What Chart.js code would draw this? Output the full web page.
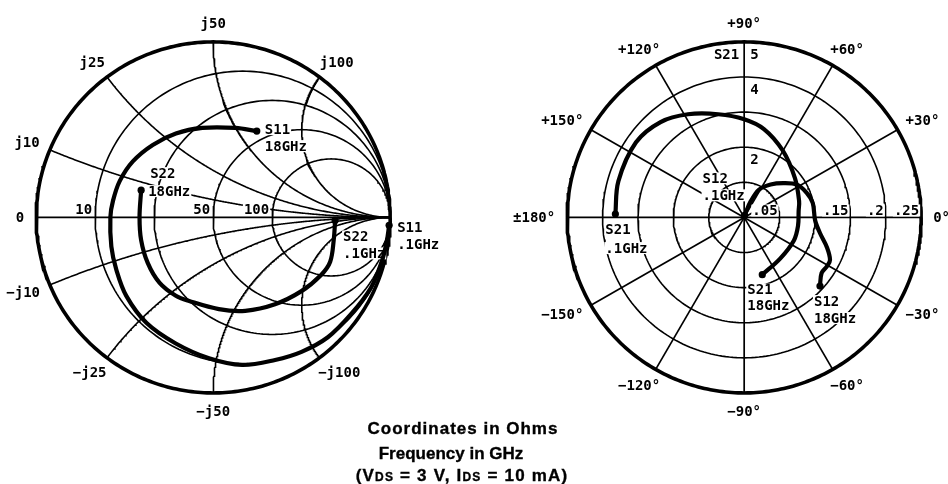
<!DOCTYPE html>
<html><head><meta charset="utf-8">
<script src="https://cdn.jsdelivr.net/npm/chart.js@4.4.1/dist/chart.umd.min.js"></script>
<style>
html,body{margin:0;padding:0;background:#fff;}
#wrap{position:relative;width:948px;height:484px;overflow:hidden;background:#fff;}
#c{position:absolute;left:0;top:0;}
.cap{position:absolute;width:400px;text-align:center;font-family:"Liberation Sans",Arial,sans-serif;font-weight:bold;font-size:17px;line-height:20px;color:#000;white-space:nowrap;-webkit-text-stroke:0.35px #000;}
.sub{font-size:12px;}
</style></head>
<body>
<div id="wrap">
<canvas id="c" width="948" height="484"></canvas>
<div class="cap" style="left:263px;top:419px;letter-spacing:1px;">Coordinates in Ohms</div>
<div class="cap" style="left:251px;top:444px;">Frequency in GHz</div>
<div class="cap" style="left:262px;top:466px;letter-spacing:1.2px;">(V<span class="sub">DS</span> = 3 V, I<span class="sub">DS</span> = 10 mA)</div>
</div>
<script>
// ---------------- DATA ----------------
const Z0 = 50;                                  // reference impedance (ohms)
const resistanceCircles = [10, 25, 50, 100];    // constant-resistance circles (ohms)
const reactanceArcs = [10, 25, 50, 100];        // constant-reactance arcs (+/- j ohms)
const resistanceTickLabels = [10, 50, 100];     // labelled resistance circles

// Smith chart, reflection coefficients (.1 GHz -> 18 GHz)
const s11Mag = [0.995, 0.99, 0.985, 0.977, 0.954, 0.941, 0.914, 0.884, 0.856, 0.803, 0.749, 0.71, 0.664, 0.623, 0.599, 0.581, 0.574, 0.5675, 0.555, 0.536, 0.5225, 0.5135, 0.525, 0.55];
const s11Ang = [-2.6, -8, -14.6, -24.3, -35.3, -46.5, -56.9, -66.7, -79, -91.7, -106.4, -122, -137.7, -151.5, -163.9, 179.8, 170.4, 158.6, 144.9, 129.6, 113.8, 96.9, 76.2, 63.4];
const s22Mag = [0.689, 0.693, 0.7075, 0.6925, 0.652, 0.6054, 0.5621, 0.5237, 0.4953, 0.4939, 0.48, 0.4517, 0.4272, 0.4162, 0.4358];
const s22Ang = [-1.4, -10.7, -20.9, -28.1, -40.1, -54.8, -71.2, -86.5, -105.9, -115.3, -129.3, -145, -162.4, 179.8, 159.1];

// Polar chart (.1 GHz -> 18 GHz)
const s21Full = 5;       // S21 magnitude at outer ring
const s12Full = 0.25;    // S12 magnitude at outer ring
const s21Ticks = [1, 2, 3, 4, 5];
const s21TickLabels = ['', '2', '', '4', '5'];
const s12Ticks = [0.05, 0.1, 0.15, 0.2, 0.25];
const s12TickLabels = ['.05', '', '.15', '.2', '.25'];
const polarAngles = [0, 30, 60, 90, 120, 150, 180, -150, -120, -90, -60, -30];
const polarAngleLabels = ['0°', '+30°', '+60°', '+90°', '+120°', '+150°', '±180°', '−150°', '−120°', '−90°', '−60°', '−30°'];
const s21Mag = [3.64, 3.70, 3.73, 3.60, 3.34, 3.03, 2.80, 2.58, 2.20, 1.82, 1.62, 1.55, 1.54, 1.55, 1.55, 1.71];
const s21Ang = [178.5, 163.8, 145.0, 131.0, 118.4, 104.0, 90.0, 77.5, 60.5, 38.0, 16.7, 7.0, -9, -25.0, -48.7, -72.6];
const s12Mag = [0.003, 0.025, 0.045, 0.060, 0.0745, 0.088, 0.095, 0.099, 0.1004, 0.11, 0.124, 0.1356, 0.136, 0.135, 0.145];
const s12Ang = [80, 68, 62, 51.5, 41, 32, 21.6, 12, -2.6, -12.2, -19.8, -26.6, -31, -35.9, -42.4];

// ---------------- LAYOUT (value-space extents) ----------------
const XMIN = -1.182, XMAX = 4.129, YMIN = -1.496, YMAX = 1.216;
const PCX = 3.0;   // polar chart centre (Smith chart centre is 0,0); both radius 1
const FONT = 'bold 14px "DejaVu Sans Mono", monospace';
const D2R = Math.PI / 180;

const smithXY = (m, a) => ({x: m * Math.cos(a * D2R), y: m * Math.sin(a * D2R)});
const polarXY = (m, a, full) => ({x: PCX + (m / full) * Math.cos(a * D2R), y: (m / full) * Math.sin(a * D2R)});

function circlePts(cx, cy, r, n) {
  const p = [];
  for (let i = 0; i <= n; i++) { const t = 2 * Math.PI * i / n; p.push({x: cx + r * Math.cos(t), y: cy + r * Math.sin(t)}); }
  return p;
}
function reactancePts(xn) {
  const p = [], N = 300;
  for (let i = 0; i < N; i++) {
    const r = Math.tan((i / N) * Math.PI / 2);
    const den = (r + 1) * (r + 1) + xn * xn;
    p.push({x: (r * r - 1 + xn * xn) / den, y: 2 * xn / den});
  }
  p.push({x: 1, y: 0});
  return p;
}

const curve = (data) => ({
  data, showLine: true, borderColor: '#000', borderWidth: 4.2, tension: 0.35,
  borderCapStyle: 'round', borderJoinStyle: 'round', fill: false,
  pointRadius: data.map((_, i) => (i === 0 || i === data.length - 1) ? 3.6 : 0),
  pointBackgroundColor: '#000', pointBorderColor: '#000', pointBorderWidth: 0
});
const grid = (data, w) => ({data, showLine: true, borderColor: '#000', borderWidth: w, tension: 0, pointRadius: 0, fill: false});

const s11Pts = s11Mag.map((m, i) => smithXY(m, s11Ang[i]));
const s22Pts = s22Mag.map((m, i) => smithXY(m, s22Ang[i]));
const s21Pts = s21Mag.map((m, i) => polarXY(m, s21Ang[i], s21Full));
const s12Pts = s12Mag.map((m, i) => polarXY(m, s12Ang[i], s12Full));

const datasets = [curve(s11Pts), curve(s22Pts), curve(s21Pts), curve(s12Pts)];
const FIRST_GRID = datasets.length;
// Smith grid
datasets.push(grid(circlePts(0, 0, 1, 360), 3.6));
datasets.push(grid([{x: -1, y: 0}, {x: 1, y: 0}], 1.8));
resistanceCircles.forEach(rv => { const rn = rv / Z0; datasets.push(grid(circlePts(rn / (1 + rn), 0, 1 / (1 + rn), 240), 1.6)); });
reactanceArcs.forEach(xv => { [1, -1].forEach(sg => datasets.push(grid(reactancePts(sg * xv / Z0), 1.6))); });
// Polar grid
datasets.push(grid(circlePts(PCX, 0, 1, 360), 3.6));
s21Ticks.slice(0, -1).forEach(t => datasets.push(grid(circlePts(PCX, 0, t / s21Full, 240), 1.6)));
polarAngles.forEach(a => datasets.push(grid([{x: PCX, y: 0}, {x: PCX + Math.cos(a * D2R), y: Math.sin(a * D2R)}], 1.7)));

// ---------------- LABELS ----------------
const notes = [
  {pts: s11Pts, at: 'last', lines: [['S11', 8, -2], ['18GHz', 8, 15]]},
  {pts: s22Pts, at: 'last', lines: [['S22', 9, -17], ['18GHz', 7, 1]]},
  {pts: s11Pts, at: 'first', lines: [['S11', 8, 2], ['.1GHz', 8, 19]]},
  {pts: s22Pts, at: 'first', lines: [['S22', 8, 16], ['.1GHz', 8, 33]]},
  {pts: s12Pts, at: 'first', lines: [['S12', -42, -37], ['.1GHz', -42, -20]]},
  {pts: s21Pts, at: 'first', lines: [['S21', -10, 15], ['.1GHz', -10, 34]]},
  {pts: s21Pts, at: 'last', lines: [['S21', -15, 15], ['18GHz', -15, 31]]},
  {pts: s12Pts, at: 'last', lines: [['S12', -6, 15], ['18GHz', -6, 32]]}
];

function tag(ctx, text, px, py, align, bg) {
  const w = ctx.measureText(text).width;
  let left = align === 'left' ? px : align === 'right' ? px - w : px - w / 2;
  if (bg) { ctx.fillStyle = '#fff'; ctx.fillRect(left - 1, py - 6, w + 2, 12); }
  ctx.fillStyle = '#000'; ctx.textAlign = 'left'; ctx.textBaseline = 'middle';
  ctx.fillText(text, left, py + 1);
}
function outward(ctx, text, cx, cy, R, deg, pad) {
  const c = Math.cos(deg * D2R), s = Math.sin(deg * D2R);
  const w = ctx.measureText(text).width, h = 10;
  const px = cx + (R + pad) * c + c * w / 2;
  const py = cy - (R + pad) * s - s * h / 2;
  tag(ctx, text, px, py, 'center', false);
}

const labelPlugin = {
  id: 'labels',
  afterDatasetDraw(chart, args) {
    if (args.index !== FIRST_GRID) return;
    const {ctx} = chart; const X = chart.scales.x, Y = chart.scales.y;
    const px = v => X.getPixelForValue(v), py = v => Y.getPixelForValue(v);
    const R = px(1) - px(0);
    ctx.save(); ctx.font = FONT;
    // Smith chart
    const sx = px(0), sy = py(0);
    reactanceArcs.forEach(xv => {
      const xn = xv / Z0;
      [1, -1].forEach(sg => {
        const gx = (xn * xn - 1) / (xn * xn + 1), gy = sg * 2 * xn / (xn * xn + 1);
        outward(ctx, (sg > 0 ? 'j' : '−j') + xv, sx, sy, R, Math.atan2(gy, gx) / D2R, 12);
      });
    });
    outward(ctx, '0', sx, sy, R, 180, 12);
    resistanceTickLabels.forEach(rv => {
      const rn = rv / Z0; tag(ctx, String(rv), px((rn - 1) / (rn + 1)) - 3, sy - 8, 'right', true);
    });
    // Polar chart
    const cx = px(PCX), cy = py(0);
    polarAngles.forEach((a, i) => outward(ctx, polarAngleLabels[i], cx, cy, R, a, 12));
    s21Ticks.forEach((t, i) => { if (s21TickLabels[i]) tag(ctx, s21TickLabels[i], cx + 6, py(t / s21Full) + 12, 'left', true); });
    tag(ctx, 'S21', cx - 5, py(1) + 12, 'right', true);
    s12Ticks.forEach((t, i) => { if (s12TickLabels[i]) tag(ctx, s12TickLabels[i], px(PCX + t / s12Full) - 2, cy - 7, 'right', true); });
    // data annotations
    notes.forEach(n => {
      const p = n.at === 'first' ? n.pts[0] : n.pts[n.pts.length - 1];
      const bx = px(p.x), by = py(p.y);
      n.lines.forEach(([t, dx, dy]) => tag(ctx, t, bx + dx, by + dy, 'left', true));
    });
    ctx.restore();
  }
};

new Chart(document.getElementById('c'), {
  type: 'scatter',
  data: {datasets},
  options: {
    responsive: false, animation: false, events: [],
    layout: {padding: 0},
    plugins: {legend: {display: false}, tooltip: {enabled: false}, title: {display: false}},
    scales: {
      x: {type: 'linear', min: XMIN, max: XMAX, display: false},
      y: {type: 'linear', min: YMIN, max: YMAX, display: false}
    }
  },
  plugins: [labelPlugin]
});
</script>
</body></html>
